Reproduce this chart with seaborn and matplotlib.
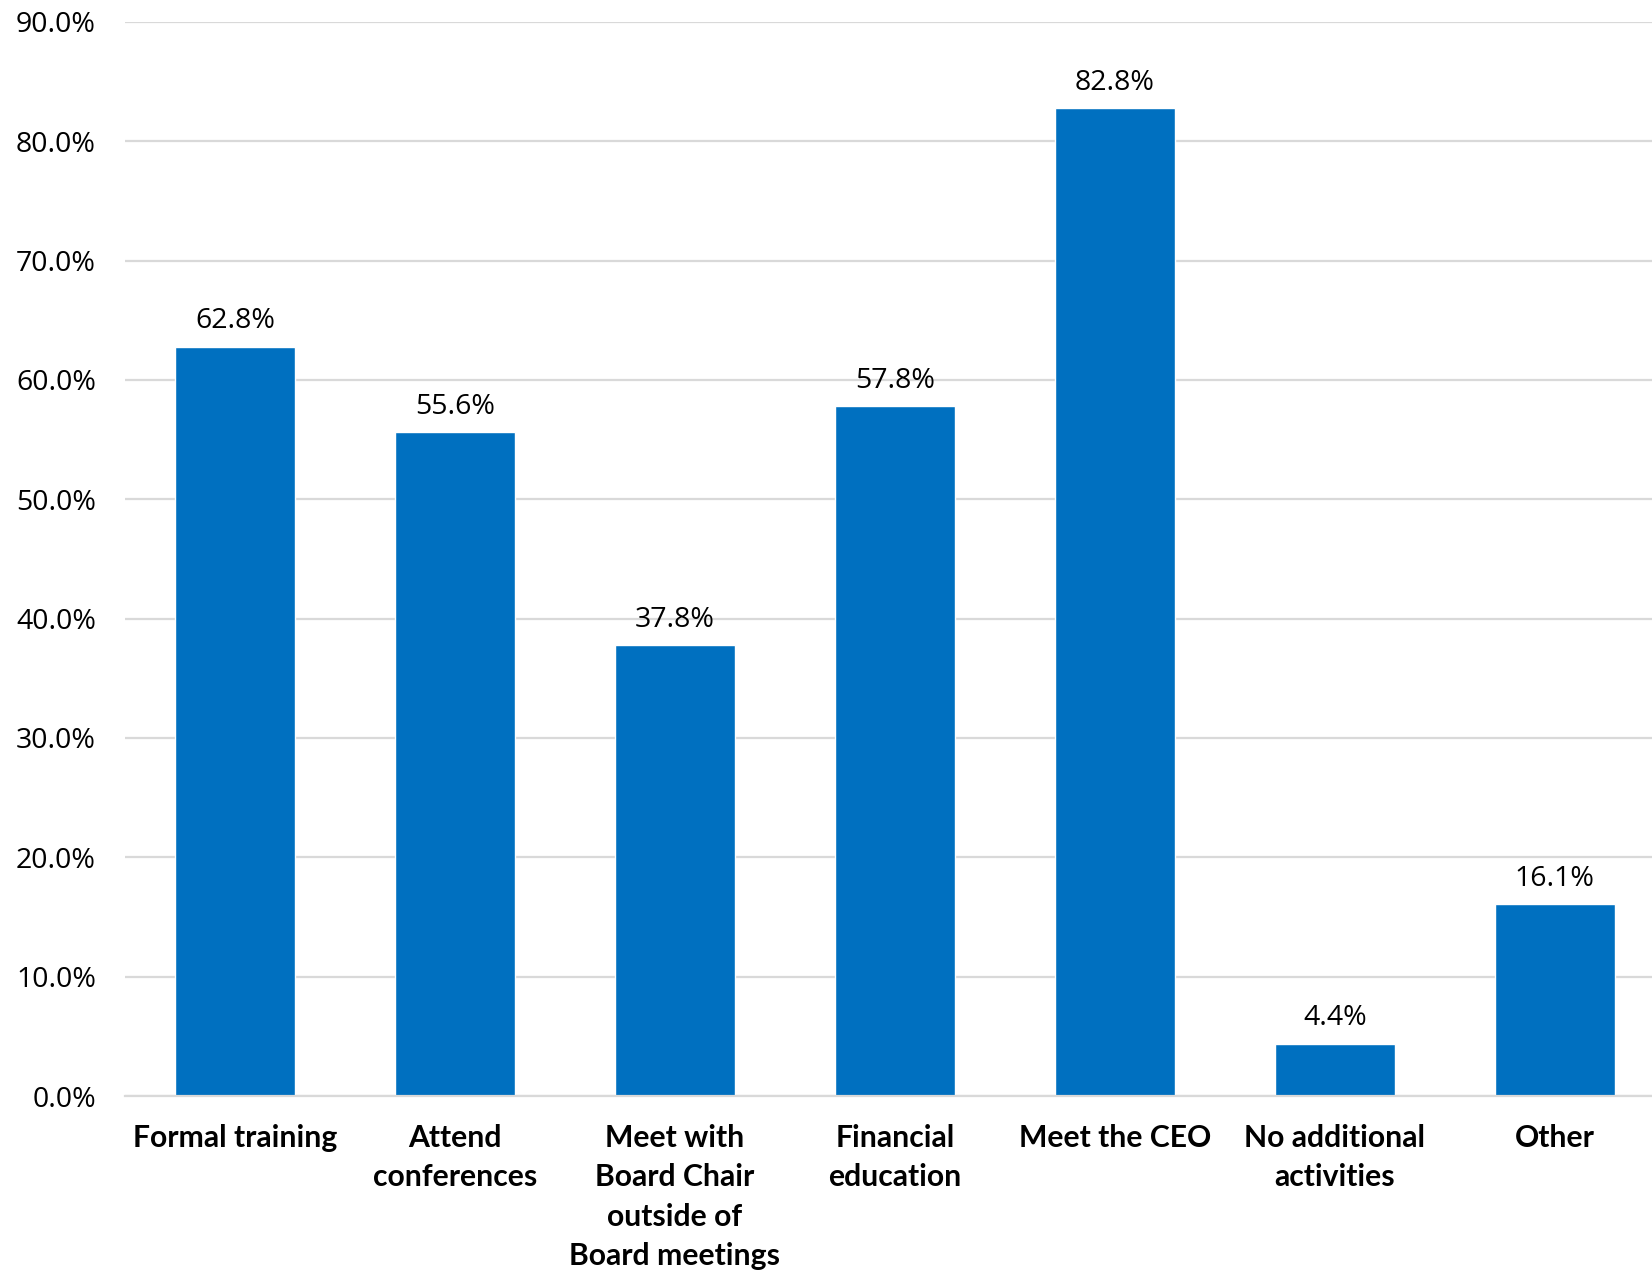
import matplotlib
matplotlib.use("Agg")
import matplotlib.pyplot as plt
import seaborn as sns
from matplotlib.ticker import FuncFormatter, MultipleLocator

# ---------- Data ----------
categories = [
    "Formal training",
    "Attend\nconferences",
    "Meet with\nBoard Chair\noutside of\nBoard meetings",
    "Financial\neducation",
    "Meet the CEO",
    "No additional\nactivities",
    "Other",
]
values = [62.8, 55.6, 37.8, 57.8, 82.8, 4.4, 16.1]

BAR_COLOR = "#0070C0"
GRID_COLOR = "#D9D9D9"

sns.set_theme(style="white")
plt.rcParams["font.family"] = ["Open Sans", "DejaVu Sans"]

fig = plt.figure(figsize=(16.52, 12.70), dpi=100)
ax = fig.add_axes([0.0757, 0.137, 0.932, 0.8457])

sns.barplot(x=categories, y=values, color=BAR_COLOR, width=0.545,
            saturation=1, ax=ax)

# Axis formatting
ax.set_ylim(0, 90)
ax.yaxis.set_major_locator(MultipleLocator(10))
ax.yaxis.set_major_formatter(FuncFormatter(lambda v, _: f"{v:.1f}%"))
ax.yaxis.grid(True, color=GRID_COLOR, linewidth=1.6)
ax.set_axisbelow(True)
for side in ["top", "right", "left"]:
    ax.spines[side].set_visible(False)
ax.spines["bottom"].set_color(GRID_COLOR)
ax.spines["bottom"].set_linewidth(1.6)
ax.tick_params(axis="y", length=0, pad=21, labelsize=20.5, labelcolor="black")
ax.tick_params(axis="x", length=0, pad=20, labelcolor="black")
for lbl in ax.get_xticklabels():
    lbl.set_fontfamily(["Lato", "DejaVu Sans"])
    lbl.set_fontweight("bold")
    lbl.set_fontsize(21.7)
    lbl.set_linespacing(1.5)
    lbl.set_verticalalignment("top")
ax.set_xlabel("")
ax.set_ylabel("")

# Value labels
for i, v in enumerate(values):
    ax.annotate(f"{v:.1f}%", (i, v), xytext=(0, 8), textcoords="offset points",
                ha="center", va="bottom", fontsize=20.5, color="black")

fig.savefig("out.png", dpi=100)
